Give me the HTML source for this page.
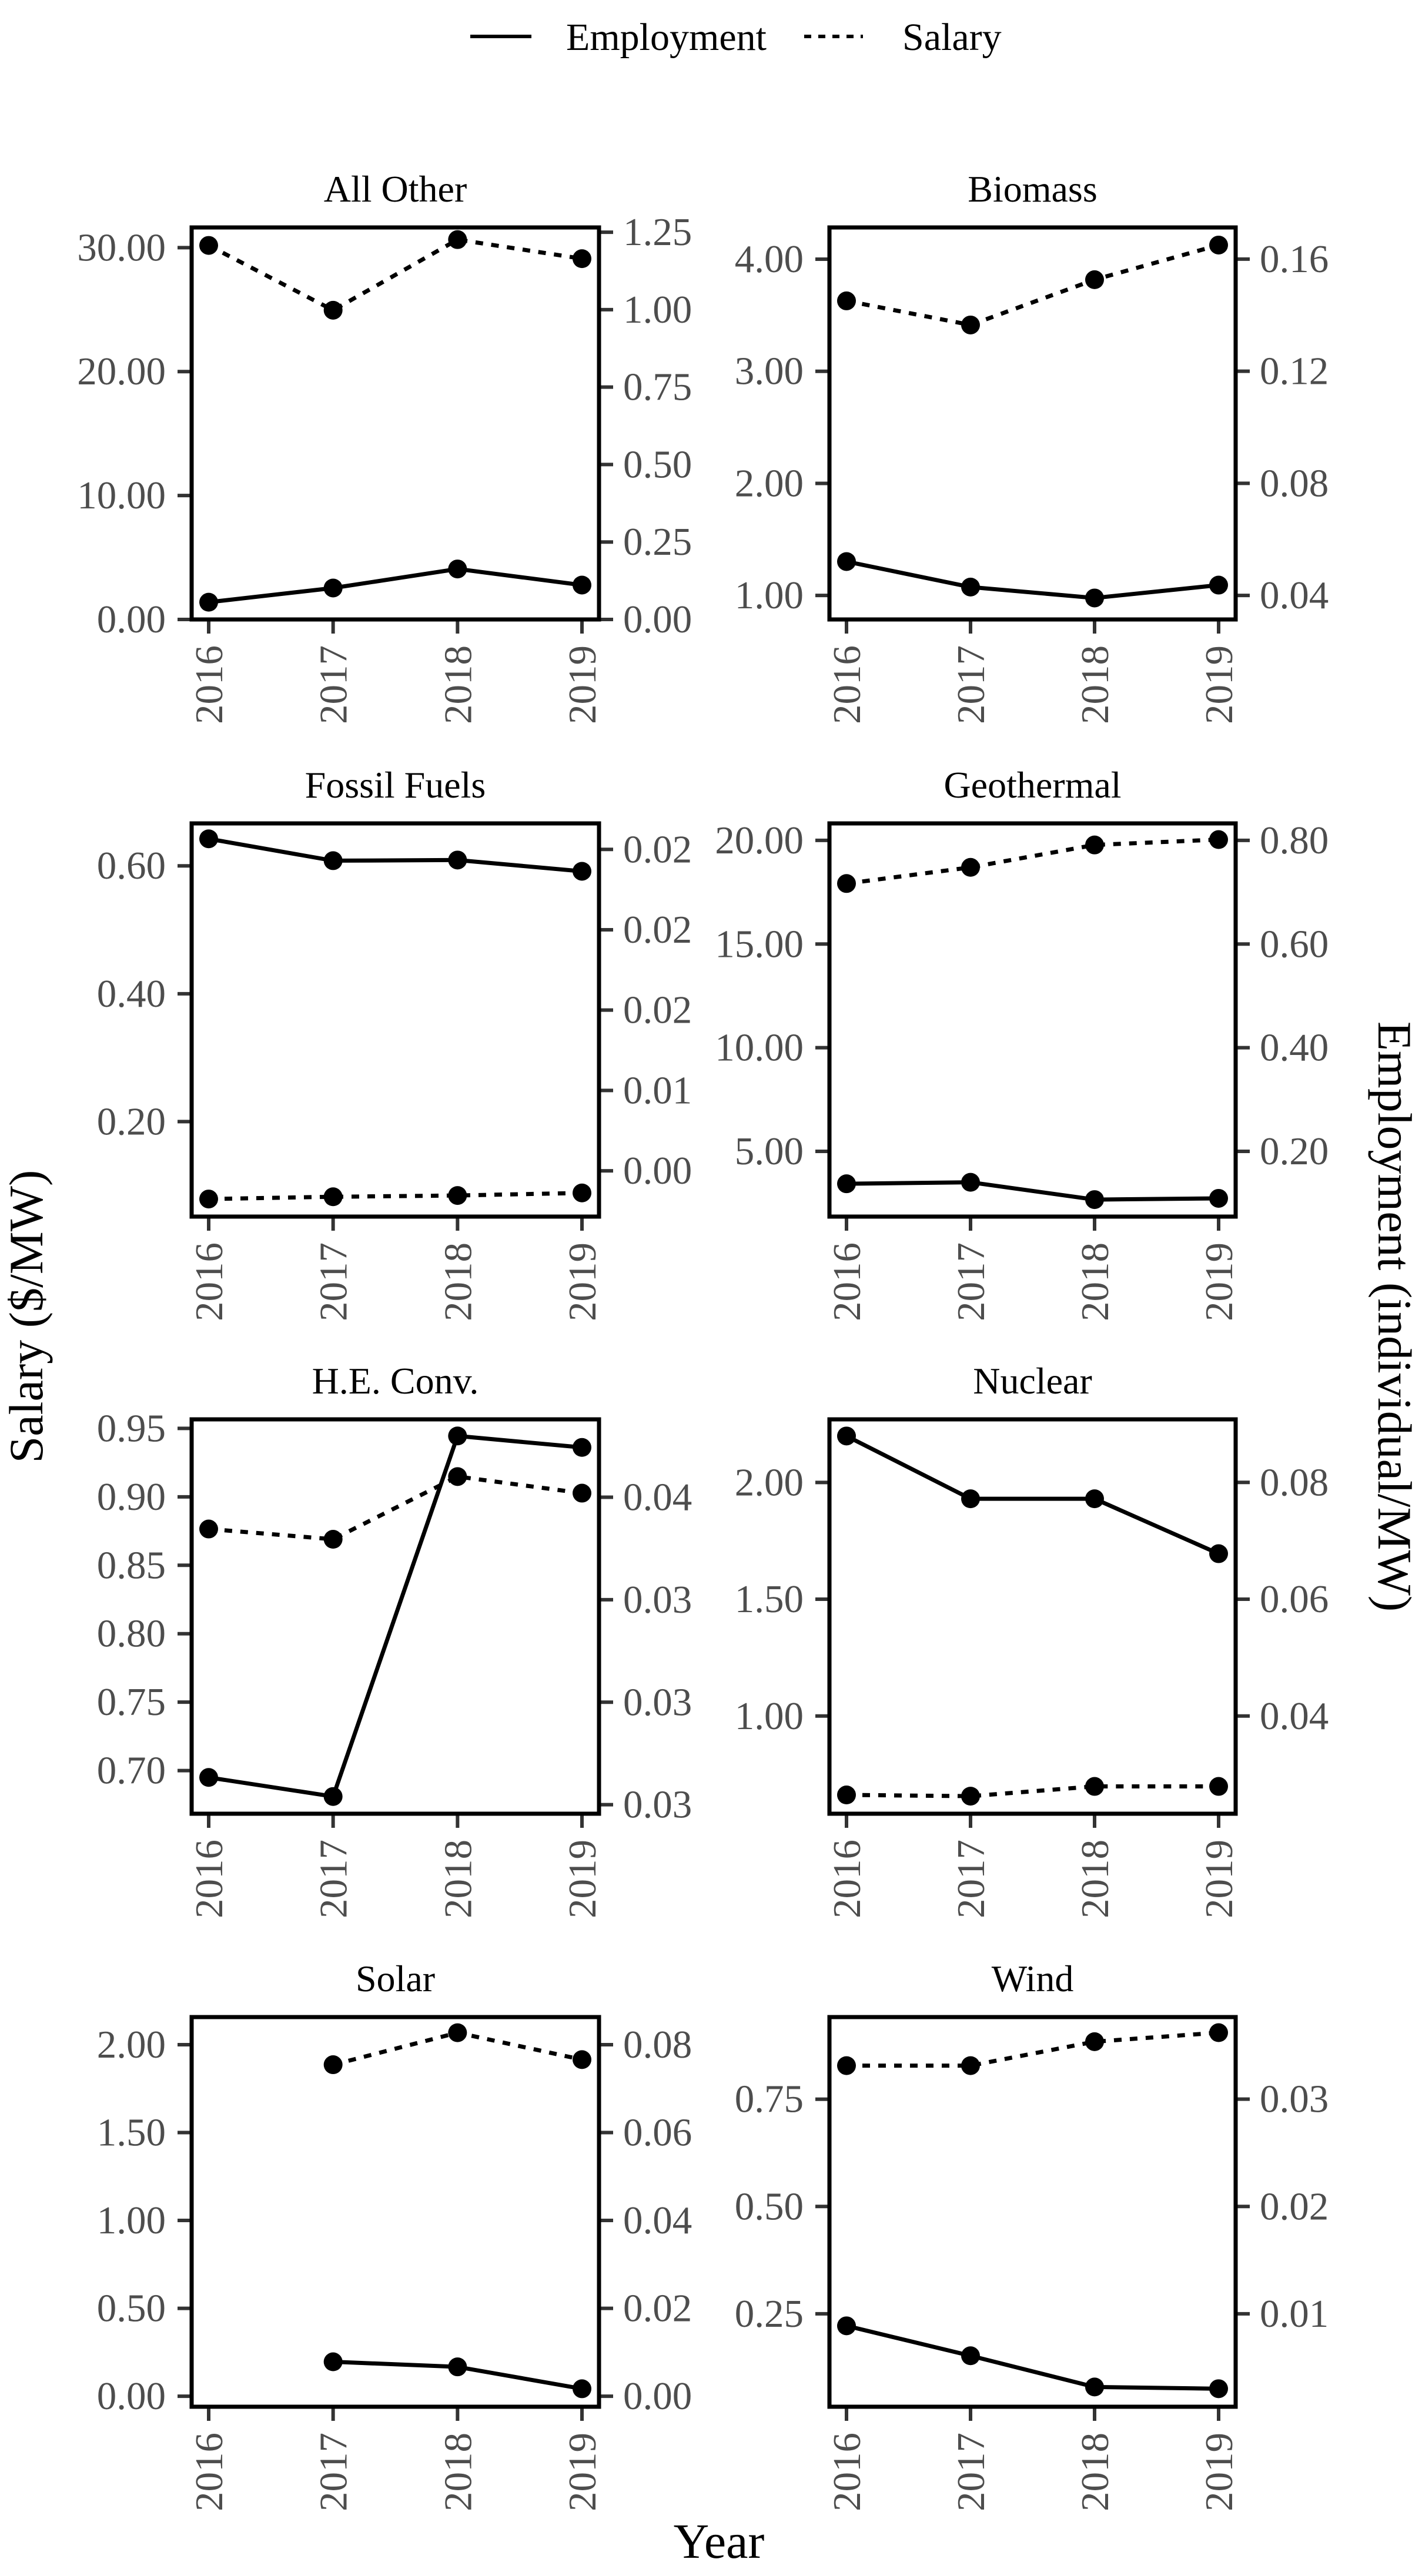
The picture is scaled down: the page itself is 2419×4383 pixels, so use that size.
<!DOCTYPE html>
<html><head><meta charset="utf-8"><style>
html,body{margin:0;padding:0;background:#fff;}
svg{display:block;font-family:"Liberation Serif","Times New Roman",serif;}
</style></head>
<body>
<svg id="chart" width="2419" height="4383" viewBox="0 0 2419 4383" xmlns="http://www.w3.org/2000/svg">
  <g>
    <line x1="800" y1="62" x2="904" y2="62" stroke="#000" stroke-width="6"/>
    <text x="963" y="85" font-size="66" fill="#000">Employment</text>
    <line x1="1368" y1="62" x2="1468" y2="62" stroke="#000" stroke-width="6" stroke-dasharray="12,12"/>
    <text x="1535" y="85" font-size="66" fill="#000">Salary</text>
  </g>
  <text transform="translate(72,2240) rotate(-90)" text-anchor="middle" font-size="82" fill="#000">Salary ($/MW)</text>
  <text transform="translate(2345,2240) rotate(90)" text-anchor="middle" font-size="82" fill="#000">Employment (individual/MW)</text>
  <text x="1223" y="4352" text-anchor="middle" font-size="84" fill="#000">Year</text>
  <g id="panels"></g>
</svg>
<script>
const years = [2016, 2017, 2018, 2019];
const panelNames = ["All Other","Biomass","Fossil Fuels","Geothermal","H.E. Conv.","Nuclear","Solar","Wind"];
const salaryAllOther = [30.18, 24.95, 30.65, 29.11];
const salaryBiomass = [3.628, 3.413, 3.817, 4.126];
const salaryFossil = [0.079, 0.0825, 0.0845, 0.0885];
const salaryGeo = [17.92, 18.70, 19.78, 20.04];
const salaryHE = [0.8765, 0.869, 0.9148, 0.9027];
const salaryNuclear = [0.6623, 0.657, 0.6987, 0.6987];
const salarySolar = [null, 1.886, 2.068, 1.915];
const salaryWind = [0.8282, 0.8282, 0.884, 0.905];
const empAllOther = [0.0557, 0.1015, 0.163, 0.111];
const empBiomass = [0.0521, 0.0430, 0.0391, 0.0437];
const empFossil = [0.02066, 0.01930, 0.01934, 0.01864];
const empGeo = [0.1374, 0.1403, 0.1069, 0.1093];
const empHE = [0.02633, 0.02540, 0.04299, 0.04243];
const empNuclear = [0.08795, 0.0772, 0.0772, 0.0678];
const empSolar = [null, 0.00784, 0.00668, 0.0017];
const empWind = [0.00888, 0.00609, 0.00318, 0.00302];
const leftDomains = [[0,31.63],[0.786,4.283],[0.0515,0.6664],[1.853,20.82],[0.6685,0.9566],[0.5818,2.270],[-0.0597,2.157],[0.0335,0.9413]];
const rightDomains = [[0,1.2653],[0.03144,0.1713],[-0.00285,0.02162],[0.0741,0.8328],[0.02456,0.0438],[0.02327,0.0908],[-0.00239,0.08628],[0.00134,0.03765]];
const leftTicks = [[0,10,20,30],[1,2,3,4],[0.2,0.4,0.6],[5,10,15,20],[0.70,0.75,0.80,0.85,0.90,0.95],[1.0,1.5,2.0],[0,0.5,1.0,1.5,2.0],[0.25,0.50,0.75]];
const leftLabels = [["0.00","10.00","20.00","30.00"],["1.00","2.00","3.00","4.00"],["0.20","0.40","0.60"],["5.00","10.00","15.00","20.00"],["0.70","0.75","0.80","0.85","0.90","0.95"],["1.00","1.50","2.00"],["0.00","0.50","1.00","1.50","2.00"],["0.25","0.50","0.75"]];
const rightTicks = [[0,0.25,0.5,0.75,1.0,1.25],[0.04,0.08,0.12,0.16],[0,0.005,0.010,0.015,0.020],[0.2,0.4,0.6,0.8],[0.025,0.030,0.035,0.040],[0.04,0.06,0.08],[0,0.02,0.04,0.06,0.08],[0.01,0.02,0.03]];
const rightLabels = [["0.00","0.25","0.50","0.75","1.00","1.25"],["0.04","0.08","0.12","0.16"],["0.00","0.01","0.02","0.02","0.02"],["0.20","0.40","0.60","0.80"],["0.03","0.03","0.03","0.04"],["0.04","0.06","0.08"],["0.00","0.02","0.04","0.06","0.08"],["0.01","0.02","0.03"]];

const salaries = [salaryAllOther,salaryBiomass,salaryFossil,salaryGeo,salaryHE,salaryNuclear,salarySolar,salaryWind];
const employments = [empAllOther,empBiomass,empFossil,empGeo,empHE,empNuclear,empSolar,empWind];

const NS = "http://www.w3.org/2000/svg";
const root = document.getElementById("panels");
const colBox = [[326,1019],[1411,2102]];
const rowBox = [[387,1054],[1401,2070],[2415,3086],[3432,4095]];
function mk(tag, attrs, parent){const e=document.createElementNS(NS,tag);for(const k in attrs)e.setAttribute(k,attrs[k]);parent.appendChild(e);return e;}

panelNames.forEach((name,i)=>{
  const c=i%2, r=Math.floor(i/2);
  const [x0,x1]=colBox[c], [y0,y1]=rowBox[r];
  const xs=(yi)=>x0+29+(x1-x0-58)*yi/3;
  const ly=(v)=>{const d=leftDomains[i];return y1-(v-d[0])/(d[1]-d[0])*(y1-y0);};
  const ry=(v)=>{const d=rightDomains[i];return y1-(v-d[0])/(d[1]-d[0])*(y1-y0);};
  const g=mk("g",{},root);
  
  
  const t=mk("text",{x:(x0+x1)/2,y:y0-44,"text-anchor":"middle","font-size":64,fill:"#000"},g);
  t.textContent=name;
  
  
  leftTicks[i].forEach((v,k)=>{
    const y=ly(v);
    const tk=mk("line",{x1:x0-24,y1:y,x2:x0,y2:y,stroke:"#333","stroke-width":6},g);
    
    
    const tl=mk("text",{x:x0-44,y:y+22,"text-anchor":"end","font-size":67,fill:"#4d4d4d"},g);
    tl.textContent=leftLabels[i][k];
    
    
  });
  rightTicks[i].forEach((v,k)=>{
    const y=ry(v);
    const tk=mk("line",{x1:x1,y1:y,x2:x1+24,y2:y,stroke:"#333","stroke-width":6},g);
    
    
    const tl=mk("text",{x:x1+41,y:y+22,"font-size":67,fill:"#4d4d4d"},g);
    tl.textContent=rightLabels[i][k];
    
    
  });
  years.forEach((yr,k)=>{
    const x=xs(k);
    const tk=mk("line",{x1:x,y1:y1,x2:x,y2:y1+24,stroke:"#333","stroke-width":6},g);
    
    
    const tl=mk("text",{transform:`translate(${x+23},${y1+44}) rotate(-90)`,"text-anchor":"end","font-size":67,fill:"#4d4d4d"},g);
    tl.textContent=yr;
    
    
  });
  const sal=salaries[i], emp=employments[i];
  const sp=[], ep=[];
  years.forEach((yr,k)=>{ if(sal[k]!=null) sp.push([xs(k),ly(sal[k])]); if(emp[k]!=null) ep.push([xs(k),ry(emp[k])]); });
  const sl=mk("polyline",{points:sp.map(p=>p.join(",")).join(" "),fill:"none",stroke:"#000","stroke-width":7,"stroke-dasharray":"13,14"},g);
  
  
  const el=mk("polyline",{points:ep.map(p=>p.join(",")).join(" "),fill:"none",stroke:"#000","stroke-width":7},g);
  
  
  sp.forEach(p=>{const d=mk("circle",{cx:p[0],cy:p[1],r:16,fill:"#000"},g);
    
    });
  ep.forEach(p=>{const d=mk("circle",{cx:p[0],cy:p[1],r:16,fill:"#000"},g);
    
    });
  const bx=mk("rect",{x:x0,y:y0,width:x1-x0,height:y1-y0,fill:"none",stroke:"#000","stroke-width":7},g);
  
  
});
</script>
</body></html>
